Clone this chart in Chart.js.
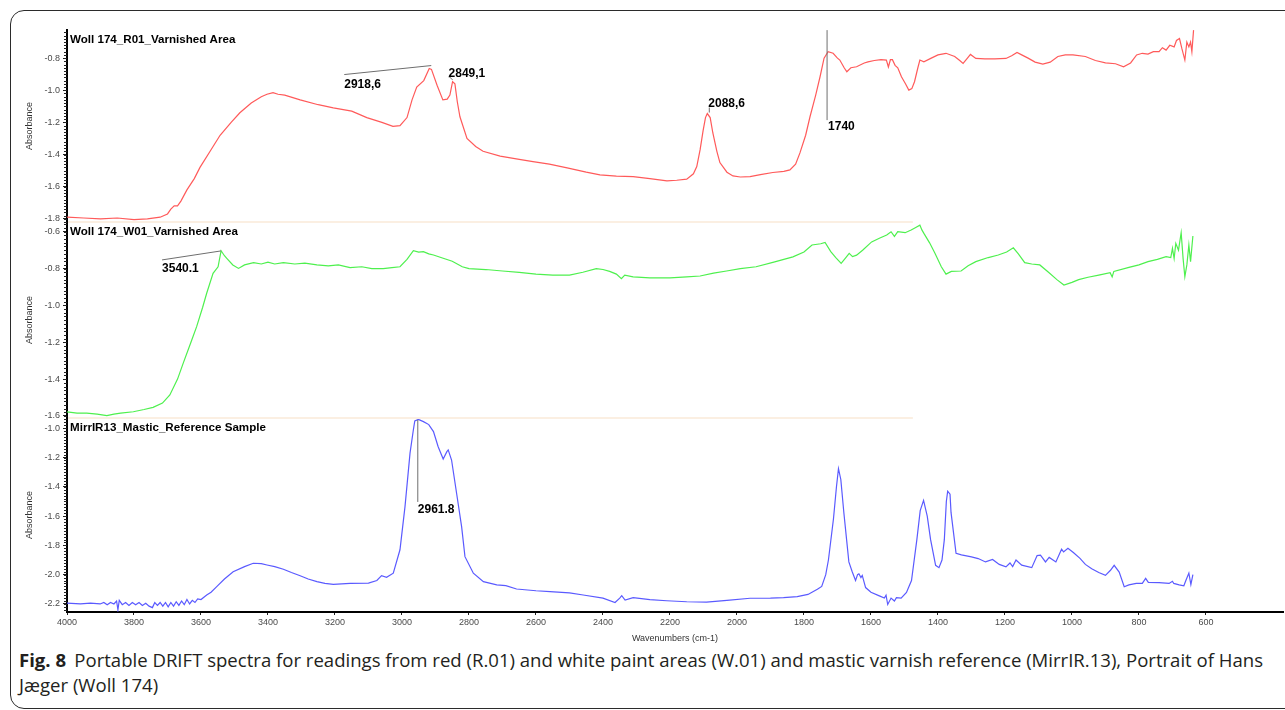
<!DOCTYPE html>
<html lang="en">
<head>
<meta charset="UTF-8">
<title>Portable DRIFT spectra - Woll 174</title>
<script src="https://cdn.jsdelivr.net/npm/chart.js"></script>
<style>
  html, body { margin: 0; padding: 0; background: #fff; }
  body { width: 1285px; height: 710px; overflow: hidden; position: relative; font-family: Arial, "Liberation Sans", sans-serif; }
  .frame { position: absolute; left: 10px; top: 10px; width: 1300px; height: 699px; box-sizing: border-box;
           border: 1px solid #2b2b2b; border-radius: 14px; }
  .plot { position: absolute; left: 0; top: 0; }
  .caption { position: absolute; left: 19px; top: 648px; font-size: 18px; line-height: 25px; color: #231f20;
             font-family: "Liberation Sans Narrow", "Open Sans", sans-serif; white-space: nowrap; transform-origin: 0 0; }
  .caption b { margin-right: 8px; }
</style>
</head>
<body>
<div class="frame"></div>
<canvas id="spectra" class="plot" width="1285" height="644"></canvas>
<div class="caption" id="caption"><span id="capLine1"><b>Fig. 8</b>Portable DRIFT spectra for readings from red (R.01) and white paint areas (W.01) and mastic varnish reference (MirrIR.13), Portrait of Hans</span><br>Jæger (Woll 174)</div>

<script>
  // wavenumber axis (cm-1), drawn high -> low
  const xMin = 370, xMax = 4000;
  const xTicks = [4000, 3800, 3600, 3400, 3200, 3000, 2800, 2600, 2400, 2200, 2000, 1800, 1600, 1400, 1200, 1000, 800, 600];

  const panelTitles = ['Woll 174_R01_Varnished Area', 'Woll 174_W01_Varnished Area', 'MirrIR13_Mastic_Reference Sample'];

  // Woll 174_R01 (red)
  const redWave = [4000, 3950, 3900, 3850, 3800, 3760, 3722, 3700, 3690, 3680, 3670, 3660, 3642, 3620, 3603, 3570, 3543, 3510, 3484, 3450,
    3420, 3403, 3385, 3370, 3350, 3304, 3250, 3205, 3150, 3105, 3060, 3027, 3006, 2985, 2970, 2956, 2935, 2918.6, 2912, 2895,
    2878, 2865, 2857, 2849, 2842, 2835, 2827, 2806, 2780, 2758, 2707, 2650, 2609, 2560, 2507, 2450, 2409, 2360, 2310, 2260,
    2209, 2180, 2150, 2130, 2120, 2110, 2101, 2094, 2088.6, 2080, 2072, 2060, 2051, 2030, 2012, 1990, 1961, 1930, 1893, 1860,
    1842, 1825, 1812, 1795, 1782, 1765, 1752, 1740, 1728, 1713, 1700, 1693, 1680, 1672, 1660, 1643, 1620, 1609, 1590, 1570,
    1554, 1548, 1542, 1536, 1528, 1520, 1509, 1497, 1487, 1478, 1470, 1460, 1454, 1442, 1420, 1400, 1376, 1350, 1335, 1325,
    1312, 1303, 1287, 1260, 1230, 1197, 1180, 1164, 1150, 1131, 1110, 1087, 1065, 1042, 1020, 997, 960, 930, 900, 870,
    846, 825, 807, 790, 773, 757, 740, 730, 719, 708, 695, 688, 679, 672, 663, 657, 651, 646, 642, 637];
  const redAbs = [-1.79, -1.795, -1.80, -1.795, -1.805, -1.80, -1.79, -1.77, -1.74, -1.72, -1.72, -1.69, -1.62, -1.55, -1.48, -1.37, -1.28, -1.20, -1.14, -1.08,
    -1.04, -1.025, -1.015, -1.025, -1.03, -1.06, -1.09, -1.11, -1.13, -1.17, -1.20, -1.225, -1.22, -1.17, -1.06, -0.98, -0.94, -0.865, -0.87, -0.97,
    -1.06, -1.055, -1.03, -0.947, -0.96, -1.07, -1.165, -1.30, -1.35, -1.38, -1.41, -1.43, -1.444, -1.46, -1.483, -1.51, -1.527, -1.535, -1.537, -1.55,
    -1.564, -1.56, -1.553, -1.52, -1.475, -1.37, -1.25, -1.17, -1.145, -1.17, -1.266, -1.38, -1.45, -1.51, -1.533, -1.54, -1.537, -1.525, -1.512, -1.505,
    -1.496, -1.46, -1.39, -1.28, -1.165, -1.03, -0.916, -0.80, -0.76, -0.77, -0.80, -0.812, -0.86, -0.885, -0.86, -0.854, -0.83, -0.823, -0.815, -0.81,
    -0.812, -0.855, -0.81, -0.81, -0.845, -0.86, -0.916, -0.96, -0.999, -0.99, -0.947, -0.86, -0.812, -0.823, -0.80, -0.78, -0.77, -0.79, -0.815, -0.833,
    -0.80, -0.777, -0.802, -0.805, -0.805, -0.802, -0.785, -0.765, -0.78, -0.80, -0.825, -0.837, -0.825, -0.79, -0.78, -0.78, -0.79, -0.815, -0.83, -0.835,
    -0.854, -0.83, -0.78, -0.77, -0.775, -0.76, -0.76, -0.735, -0.75, -0.72, -0.73, -0.69, -0.678, -0.74, -0.812, -0.70, -0.73, -0.70, -0.76, -0.626];

  // Woll 174_W01 (green)
  const greenWave = [4000, 3970, 3941, 3910, 3881, 3860, 3840, 3802, 3770, 3743, 3715, 3693, 3670, 3653, 3630, 3613, 3595, 3583, 3564, 3549,
    3540, 3530, 3523, 3505, 3488, 3470, 3443, 3420, 3400, 3380, 3354, 3320, 3290, 3254, 3220, 3190, 3155, 3120, 3090, 3056,
    3030, 3006, 2985, 2966, 2950, 2936, 2920, 2906, 2877, 2850, 2820, 2800, 2750, 2700, 2650, 2600, 2550, 2500, 2460, 2420,
    2400, 2380, 2360, 2345, 2335, 2310, 2260, 2200, 2150, 2110, 2070, 2031, 1990, 1943, 1890, 1833, 1800, 1776, 1750, 1737,
    1720, 1705, 1689, 1675, 1665, 1655, 1643, 1625, 1598, 1575, 1553, 1540, 1530, 1520, 1498, 1480, 1465, 1454, 1448, 1442,
    1425, 1409, 1390, 1376, 1360, 1331, 1310, 1287, 1250, 1220, 1195, 1175, 1160, 1141, 1120, 1096, 1070, 1045, 1024, 1000,
    980, 952, 920, 886, 880, 875, 830, 800, 773, 745, 719, 705, 700, 695, 690, 682, 674, 668, 663, 657,
    651, 646, 639];
  const greenAbs = [-1.578, -1.585, -1.585, -1.59, -1.598, -1.59, -1.585, -1.577, -1.565, -1.553, -1.53, -1.486, -1.40, -1.313, -1.20, -1.115, -1.01, -0.934, -0.826, -0.79,
    -0.703, -0.73, -0.744, -0.78, -0.799, -0.78, -0.768, -0.775, -0.765, -0.775, -0.768, -0.775, -0.77, -0.78, -0.785, -0.78, -0.795, -0.79, -0.80, -0.80,
    -0.795, -0.79, -0.75, -0.703, -0.71, -0.708, -0.72, -0.726, -0.744, -0.76, -0.79, -0.80, -0.805, -0.813, -0.82, -0.83, -0.835, -0.835, -0.82, -0.80,
    -0.805, -0.815, -0.83, -0.855, -0.835, -0.845, -0.85, -0.85, -0.845, -0.84, -0.825, -0.813, -0.80, -0.79, -0.765, -0.736, -0.71, -0.672, -0.665, -0.658,
    -0.708, -0.74, -0.772, -0.74, -0.717, -0.735, -0.727, -0.70, -0.655, -0.635, -0.618, -0.60, -0.625, -0.60, -0.605, -0.59, -0.575, -0.564, -0.59, -0.609,
    -0.66, -0.717, -0.79, -0.83, -0.815, -0.813, -0.785, -0.762, -0.74, -0.726, -0.71, -0.687, -0.72, -0.768, -0.775, -0.78, -0.82, -0.86, -0.889, -0.875,
    -0.86, -0.847, -0.835, -0.822, -0.845, -0.815, -0.793, -0.78, -0.762, -0.75, -0.735, -0.74, -0.69, -0.745, -0.663, -0.70, -0.605, -0.75, -0.844, -0.78,
    -0.672, -0.762, -0.623];

  // MirrIR13 mastic reference (blue)
  const blueWave = [4000, 3960, 3930, 3901, 3890, 3880, 3870, 3860, 3852, 3848, 3844, 3835, 3825, 3815, 3805, 3795, 3785, 3775, 3765, 3755,
    3745, 3738, 3730, 3722, 3714, 3706, 3698, 3690, 3682, 3674, 3666, 3658, 3650, 3642, 3634, 3626, 3618, 3610, 3600, 3583,
    3570, 3553, 3530, 3504, 3470, 3444, 3420, 3403, 3380, 3354, 3330, 3304, 3280, 3254,
    3230, 3205, 3155, 3100, 3075, 3061, 3046, 3026, 3006, 2991, 2976, 2966, 2961.8, 2951, 2936, 2920, 2906, 2892, 2877, 2866,
    2862, 2852, 2837, 2822, 2812, 2787, 2757, 2717, 2690, 2658, 2600, 2558, 2500, 2459, 2400, 2364, 2350, 2344, 2334, 2310,
    2260, 2210, 2150, 2091, 2030, 1961, 1900, 1861, 1820, 1788, 1760, 1747, 1735, 1727, 1712, 1703, 1697, 1690, 1681, 1666,
    1656, 1646, 1640, 1636, 1630, 1626, 1616, 1600, 1575, 1560, 1555, 1550, 1540, 1530, 1524, 1510, 1494, 1479, 1463, 1453,
    1443, 1432, 1422, 1407, 1397, 1388, 1381, 1375, 1371, 1364, 1361, 1346, 1330, 1300, 1280, 1258, 1237, 1217, 1197, 1185,
    1177, 1167, 1150, 1120, 1104, 1094, 1079, 1068, 1048, 1031, 1025, 1012, 995, 976, 960, 941, 920, 900, 885, 874,
    859, 844, 830, 808, 790, 780, 772, 740, 710, 700, 696, 680, 666, 660, 651, 645, 639];
  const blueAbs = [-2.195, -2.20, -2.195, -2.20, -2.19, -2.205, -2.19, -2.20, -2.18, -2.24, -2.175, -2.205, -2.19, -2.21, -2.19, -2.205, -2.19, -2.21, -2.195, -2.215,
    -2.225, -2.19, -2.21, -2.19, -2.215, -2.19, -2.22, -2.19, -2.215, -2.185, -2.21, -2.18, -2.205, -2.17, -2.20, -2.175, -2.19, -2.165, -2.17, -2.139,
    -2.12, -2.082, -2.03, -1.98, -1.945, -1.922, -1.925, -1.934, -1.945, -1.963, -1.985, -2.007, -2.03, -2.048,
    -2.06, -2.066, -2.059, -2.058, -2.04, -2.007, -2.018, -1.99, -1.83, -1.535, -1.17, -1.01, -0.95, -0.94, -0.955, -0.975, -1.023, -1.126, -1.21, -1.16,
    -1.148, -1.217, -1.444, -1.672, -1.877, -1.99, -2.048, -2.07, -2.075, -2.098, -2.11, -2.116, -2.125, -2.139, -2.16, -2.19, -2.16, -2.143, -2.173, -2.157,
    -2.17, -2.178, -2.185, -2.187, -2.175, -2.161, -2.16, -2.157, -2.15, -2.135, -2.10, -2.08, -2.0, -1.9, -1.62, -1.40, -1.276, -1.35, -1.575, -1.913,
    -1.98, -2.04, -2.0, -1.994, -2.02, -2.005, -2.088, -2.12, -2.145, -2.16, -2.14, -2.204, -2.16, -2.18, -2.157, -2.16, -2.122, -2.04, -1.761, -1.563,
    -1.493, -1.60, -1.761, -1.936, -1.952, -1.90, -1.761, -1.50, -1.43, -1.45, -1.575, -1.854, -1.865, -1.878, -1.89, -1.913, -1.896, -1.93, -1.947, -1.92,
    -1.945, -1.90, -1.935, -1.952, -1.87, -1.866, -1.913, -1.882, -1.913, -1.826, -1.845, -1.82, -1.85, -1.889, -1.93, -1.959, -1.985, -2.005, -1.97, -1.936,
    -1.982, -2.083, -2.07, -2.06, -2.06, -2.025, -2.053, -2.055, -2.06, -2.045, -2.06, -2.07, -2.076, -2.04, -1.989, -2.068, -2.0];

  // labelled peaks
  const redPeaks = [2918.6, 2849.1, 2088.6, 1740];
  const redPeakText = ['2918,6', '2849,1', '2088,6', '1740'];
  const greenPeaks = [3540.1];
  const greenPeakText = ['3540.1'];
  const bluePeaks = [2961.8];
  const bluePeakText = ['2961.8'];

  // value ranges of the three stacked panels
  const redRange = [-1.82, -0.625];
  const greenRange = [-1.611, -0.547];
  const blueRange = [-2.255, -0.93];
  const separatorEnd = 1475;

  const toPoints = (w, a) => w.map((x, i) => ({ x: x, y: a[i] }));

  function absAt(waves, abs, w) {
    for (let i = 0; i < waves.length - 1; i++) {
      if (w <= waves[i] && w >= waves[i + 1]) {
        const t = (waves[i] - w) / (waves[i] - waves[i + 1]);
        return abs[i] + t * (abs[i + 1] - abs[i]);
      }
    }
    return abs[abs.length - 1];
  }

  // leader line and text offsets (px) from the peak point
  const markerLayout = {
    '2918,6': { line: [[2, -3], [-85, 6]], text: [-85, 16] },
    '2849,1': { line: [[0, -2], [-3, -5], [-4, -5]], text: [-4, -8] },
    '2088,6': { line: [[2, -1], [2, -6]], text: [1, -10] },
    '1740':   { line: [[3, -28], [3, 62]], text: [4, 69] },
    '3540.1': { line: [[0, 0], [-59, 9]], text: [-59, 18] },
    '2961.8': { line: [[3, -1], [3, 81]], text: [3, 89] }
  };

  const panels = [
    { axis: 'yRed', title: panelTitles[0], wave: redWave, abs: redAbs, peaks: redPeaks, text: redPeakText },
    { axis: 'yGreen', title: panelTitles[1], wave: greenWave, abs: greenAbs, peaks: greenPeaks, text: greenPeakText },
    { axis: 'yBlue', title: panelTitles[2], wave: blueWave, abs: blueAbs, peaks: bluePeaks, text: bluePeakText }
  ];

  const panelDecor = {
    id: 'panelDecor',
    afterDatasetsDraw(chart) {
      const c = chart.ctx, area = chart.chartArea, xs = chart.scales.x;
      c.save();
      // faint panel separators
      c.strokeStyle = '#fbefe2';
      c.lineWidth = 2;
      ['yRed', 'yGreen'].forEach(id => {
        const yb = Math.round(chart.scales[id].bottom);
        c.beginPath();
        c.moveTo(area.left + 1, yb);
        c.lineTo(xs.getPixelForValue(separatorEnd), yb);
        c.stroke();
      });
      // minor ticks on the absorbance axes
      c.strokeStyle = '#222';
      c.lineWidth = 1;
      panels.forEach(p => {
        const s = chart.scales[p.axis];
        for (let v = Math.ceil(s.min / 0.02) * 0.02; v <= s.max; v += 0.02) {
          const y = Math.round(s.getPixelForValue(v)) + 0.5;
          c.beginPath();
          c.moveTo(area.left - 3, y);
          c.lineTo(area.left, y);
          c.stroke();
        }
      });
      // titles and peak markers
      panels.forEach(p => {
        const s = chart.scales[p.axis];
        c.fillStyle = '#000';
        c.font = 'bold 11.6px Arial, "Liberation Sans", sans-serif';
        c.textAlign = 'left';
        c.textBaseline = 'middle';
        c.fillText(p.title, area.left + 3, s.top + 10);
        c.font = 'bold 12px Arial, "Liberation Sans", sans-serif';
        p.peaks.forEach((w, i) => {
          const lay = markerLayout[p.text[i]];
          const px = xs.getPixelForValue(w);
          const py = s.getPixelForValue(absAt(p.wave, p.abs, w));
          c.strokeStyle = '#6e6e6e';
          c.lineWidth = 1;
          c.beginPath();
          lay.line.forEach((pt, k) => {
            if (k === 0) c.moveTo(px + pt[0], py + pt[1]);
            else c.lineTo(px + pt[0], py + pt[1]);
          });
          c.stroke();
          c.fillStyle = '#000';
          c.fillText(p.text[i], px + lay.text[0], py + lay.text[1]);
        });
      });
      c.restore();
    }
  };

  function yAxis(range, weight, layoutWeight) {
    return {
      type: 'linear',
      position: 'left',
      stack: 'spectra',
      stackWeight: weight,
      weight: layoutWeight,
      min: range[0],
      max: range[1],
      ticks: { stepSize: 0.2, includeBounds: false, callback: v => v.toFixed(1), font: { size: 9 }, color: '#4a4a4a', padding: 3 },
      grid: { drawOnChartArea: false, tickLength: 4, color: '#222' },
      border: { color: '#000', width: 2 },
      title: { display: true, text: 'Absorbance', font: { size: 9 }, color: '#333', padding: { top: 4, bottom: 2 } },
      afterFit: s => { s.width = 47; }
    };
  }

  const line = (data, color, axis, label) => ({
    label: label, data: data, yAxisID: axis, borderColor: color, borderWidth: 1.2,
    pointRadius: 0, tension: 0, fill: false
  });

  new Chart(document.getElementById('spectra'), {
    type: 'line',
    data: {
      datasets: [
        line(toPoints(redWave, redAbs), '#ff5a5a', 'yRed', panelTitles[0]),
        line(toPoints(greenWave, greenAbs), '#4ef04e', 'yGreen', panelTitles[1]),
        line(toPoints(blueWave, blueAbs), '#5a5aff', 'yBlue', panelTitles[2])
      ]
    },
    options: {
      responsive: false,
      animation: false,
      layout: { padding: { left: 20, top: 30, right: 2, bottom: 0 } },
      plugins: { legend: { display: false }, tooltip: { enabled: false } },
      scales: {
        x: {
          type: 'linear',
          reverse: true,
          min: xMin,
          max: xMax,
          afterBuildTicks: s => { s.ticks = xTicks.map(v => ({ value: v })); },
          ticks: { autoSkip: false, maxRotation: 0, callback: v => String(v), font: { size: 9 }, color: '#4a4a4a', padding: 2 },
          grid: { drawOnChartArea: false, tickLength: 3, color: '#222' },
          border: { color: '#000', width: 2 },
          title: { display: true, text: 'Wavenumbers (cm-1)', font: { size: 9 }, color: '#333', padding: { top: 2, bottom: 0 } },
          afterFit: s => { s.height = 32; }
        },
        yRed: yAxis(redRange, 192, 3),
        yGreen: yAxis(greenRange, 196, 2),
        yBlue: yAxis(blueRange, 194, 1)
      }
    },
    plugins: [panelDecor]
  });

  // squeeze the caption to the width of the printed one
  const cap = document.getElementById('caption');
  const w1 = document.getElementById('capLine1').getBoundingClientRect().width;
  cap.style.transform = 'scaleX(' + (1244 / w1) + ')';
</script>
</body>
</html>
